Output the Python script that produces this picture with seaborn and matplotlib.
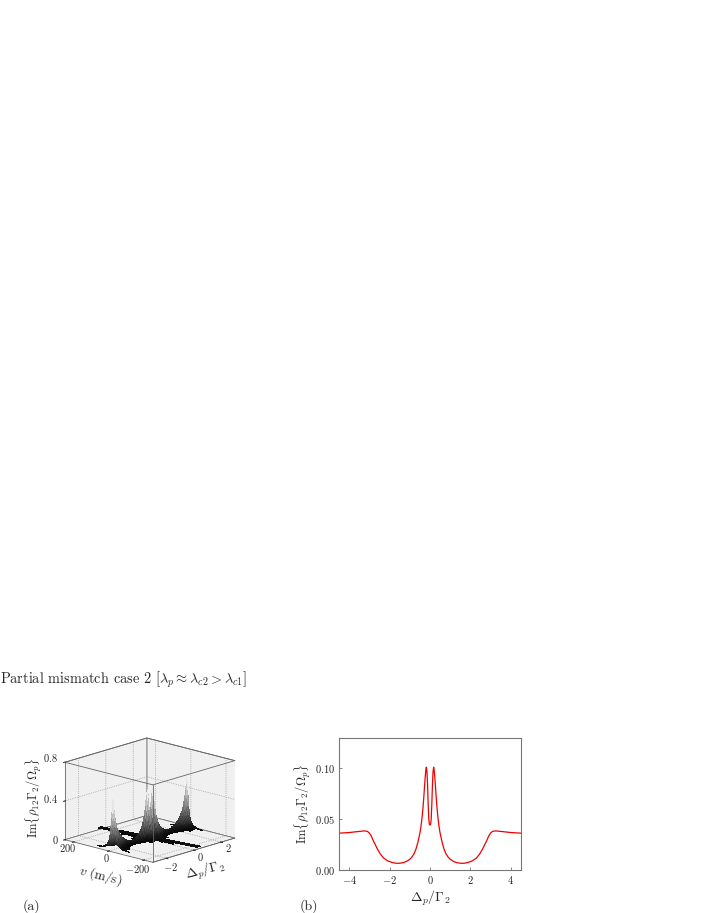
import numpy as np
import pandas as pd
import seaborn as sns
import matplotlib
matplotlib.use('Agg')
import matplotlib.pyplot as plt
from mpl_toolkits.mplot3d import Axes3D  # noqa

sns.set_style('ticks')
plt.rcParams['font.family'] = ['cmr10', 'DejaVu Serif']
plt.rcParams['mathtext.fontset'] = 'cm'
plt.rcParams['axes.unicode_minus'] = False
plt.rcParams['axes.formatter.use_mathtext'] = True

W, H = 706, 913

# %% panel (b), positive side of the detuning axis
det_b = [0.0, 0.03, 0.06, 0.09, 0.12, 0.15, 0.18, 0.21, 0.24, 0.27, 0.30, 0.35, 0.40, 0.45,
         0.50, 0.60, 0.70, 0.80, 0.90, 1.00, 1.15, 1.30, 1.50, 1.70, 1.90, 2.10, 2.30, 2.45,
         2.60, 2.70, 2.80, 2.90, 3.00, 3.10, 3.25, 3.50, 4.00, 4.50]
im_b = [0.044, 0.0445, 0.050, 0.064, 0.083, 0.096, 0.1005, 0.097, 0.090, 0.082, 0.073, 0.060, 0.050, 0.042,
        0.036, 0.027, 0.020, 0.0155, 0.0125, 0.0105, 0.0085, 0.0073, 0.0066, 0.0066, 0.0075, 0.0090, 0.0118, 0.0155,
        0.0205, 0.0245, 0.0285, 0.0330, 0.0362, 0.0378, 0.0382, 0.0377, 0.0366, 0.0360]

# %% panel (a): surface heights, columns follow det_a, rows are velocity slices
det_a = [0.0, 0.07, 0.14, 0.18, 0.24, 0.32, 0.40, 0.50, 0.63, 0.81, 1.08, 1.35, 1.62, 1.89, 2.07, 2.20,
         2.30, 2.38, 2.45, 2.50, 2.56, 2.61, 2.66, 2.70]
v_a = [0, 3, 6, 9, 12, 16, 20, 25, 32, 50, 80, 130, 250]
z_v0 = [.26, .32, .47, .52, .46, .35, .26, .19, .13, .085, .05, .04, .05, .08, .11, .14,
        .17, .20, .24, .28, .33, .39, .45, .52]
z_v3 = [.22, .27, .39, .43, .38, .29, .22, .16, .11, .072, .043, .035, .043, .067, .092, .117,
        .14, .165, .20, .23, .27, .32, .37, .43]
z_v6 = [.17, .21, .31, .34, .30, .23, .17, .13, .09, .06, .036, .03, .036, .055, .075, .095,
        .115, .135, .16, .19, .22, .26, .30, .35]
z_v9 = [.13, .16, .23, .26, .23, .17, .13, .10, .07, .047, .029, .024, .029, .043, .058, .074,
        .09, .105, .125, .145, .17, .20, .23, .26]
z_v12 = [.09, .11, .16, .18, .16, .12, .09, .07, .05, .035, .022, .018, .022, .032, .043, .055,
         .065, .075, .09, .105, .12, .14, .16, .18]
z_v16 = [.07, .08, .11, .125, .11, .085, .065, .05, .038, .026, .017, .014, .017, .024, .032, .04,
         .048, .055, .065, .075, .085, .10, .11, .125]
z_v20 = [.05, .06, .08, .09, .08, .06, .05, .04, .03, .02, .013, .011, .013, .018, .024, .03,
         .035, .04, .045, .05, .06, .07, .08, .09]
z_v25 = [.04, .045, .055, .06, .055, .042, .035, .028, .021, .014, .009, .008, .009, .013, .017, .021,
         .025, .029, .032, .036, .042, .048, .055, .06]
z_v32 = [.03, .035, .04, .045, .04, .03, .025, .02, .015, .01, .007, .006, .007, .01, .012, .015,
         .018, .02, .023, .026, .03, .033, .037, .04]
z_v50 = [.025, .025, .022, .02, .017, .014, .011, .009, .007, .005, .004, .003, .004, .005, .006, .007,
         .008, .009, .01, .012, .013, .015, .017, .018]
z_v80 = [.022, .022, .018, .01, .008, .006, .005, .004, .003, .002, .002, .002, .002, .002, .003, .003,
         .003, .004, .004, .005, .005, .006, .007, .008]
z_v130 = [.022, .022, .018, .006, .004, .003, .002, .002, .001, .001, .001, .001, .001, .001, .001, .001,
          .001, .002, .002, .002, .002, .002, .003, .003]
z_v250 = [.022, .022, .018, .005, .002, .001, .001, .001, .001, 0, 0, 0, 0, 0, 0, 0,
          0, 0, .001, .001, .001, .001, .001, .001]
z_rows = [z_v0, z_v3, z_v6, z_v9, z_v12, z_v16, z_v20, z_v25, z_v32, z_v50, z_v80, z_v130, z_v250]

v_ticks = [-200, 0, 200]
det_ticks_a = [-2, 0, 2]
z_ticks = [0, 0.4, 0.8]
det_ticks_b = [-4, -2, 0, 2, 4]
im_ticks_b = [0.00, 0.05, 0.10]

TITLE = r'Partial mismatch case 2 [$\lambda_p \approx \lambda_{c2} > \lambda_{c1}$]'
YLAB = r'$\mathrm{Im}\{\rho_{12}\Gamma_2/\Omega_p\}$'
XLAB = r'$\Delta_p/\Gamma_2$'
RIDGE_TILT = -0.0016  # the central ridge leans a little across v

fig = plt.figure(figsize=(W / 100, H / 100), dpi=100)
fig.patch.set_facecolor('white')


def put(x, y, s, **kw):
    fig.text(x / W, 1 - y / H, s, **kw)


put(0, 680, TITLE, fontsize=10.3, va='center', ha='left')
put(31, 906, '(a)', fontsize=10, va='center', ha='center')
put(309, 906, '(b)', fontsize=10, va='center', ha='center')

# %% (b)
ax = fig.add_axes([339 / W, 1 - 870 / H, 182 / W, 132 / H])
det_b = np.array(det_b)
im_b = np.array(im_b)
df_b = pd.DataFrame({'det': np.r_[-det_b[:0:-1], det_b], 'im': np.r_[im_b[:0:-1], im_b]})
sns.lineplot(data=df_b, x='det', y='im', color='#f00000', lw=0.9, ax=ax, sort=False, errorbar=None)
ax.set_xlim(-4.5, 4.5)
ax.set_ylim(0, 0.129)
ax.set_xticks(det_ticks_b, [f'${t}$' if t >= 0 else f'$-{-t}$' for t in det_ticks_b])
ax.set_yticks(im_ticks_b, [f'${t:.2f}$' for t in im_ticks_b])
ax.tick_params(direction='in', length=2.5, width=0.5, labelsize=7.5, color='#555555', labelcolor='#222222', pad=3)
for s in ax.spines.values():
    s.set_color('#777777')
    s.set_linewidth(0.8)
ax.set_xlabel(XLAB, fontsize=10, labelpad=2)
ax.set_ylabel(YLAB, fontsize=9, labelpad=1)

# %% (a)
ax3 = fig.add_axes([-3 / W, 1 - 908 / H, 300 / W, 210 / H], projection='3d', computed_zorder=False)
ax3.set_proj_type('ortho')
ax3.view_init(elev=16, azim=-137)
det_a = np.array(det_a)
x = np.r_[-det_a[:0:-1], det_a]
v_a = np.array(v_a)
y = np.r_[-v_a[:0:-1], v_a]
half = [np.r_[np.array(r)[:0:-1], np.array(r)] for r in z_rows]
Z = np.array(half[:0:-1] + half)
X, Y = np.meshgrid(x, y)
X = X + RIDGE_TILT * Y
# colour each facet by the mean height of its corners, floor stays see-through
Zm = (Z[:-1, :-1] + Z[1:, :-1] + Z[:-1, 1:] + Z[1:, 1:]) / 4
fc = plt.get_cmap('gray')(np.clip(Zm / 0.5, 0, 1) ** 0.9)
fc[Zm < 0.012, 3] = 0
# one strip per detuning step, far strips first, so the facets overlap properly
n_col = Z.shape[1] - 1
for k, j in enumerate(range(n_col - 1, -1, -1)):
    ax3.plot_surface(X[:, j:j + 2], Y[:, j:j + 2], Z[:, j:j + 2], facecolors=fc[:, j:j + 1],
                     rstride=1, cstride=1, shade=False, linewidth=0, antialiased=False,
                     zorder=2 + k / 100)
ax3.set_xlim(-3, 3)
ax3.set_ylim(-250, 250)
ax3.set_zlim(0, 0.8)
ax3.set_xticks(det_ticks_a, [])
ax3.set_yticks(v_ticks, [])
ax3.set_zticks(z_ticks, [])
ax3.tick_params(length=2)
for a in (ax3.xaxis, ax3.yaxis, ax3.zaxis):
    a.set_pane_color((0.94, 0.94, 0.94, 1))
    a.pane.set_edgecolor('#666666')
    a.pane.set_linewidth(0.5)
    a.line.set_color('#666666')
    a.line.set_linewidth(0.6)
    a._axinfo['grid'].update(color='#888888', linestyle=':', linewidth=0.5)
# front edges of the box
for xs, ys, zs in [((-3, -3), (-250, -250), (0, 0.8)), ((-3, -3), (-250, 250), (0.8, 0.8)),
                   ((-3, 3), (-250, -250), (0.8, 0.8)), ((3, 3), (-250, 250), (0.8, 0.8)),
                   ((-3, 3), (250, 250), (0.8, 0.8))]:
    ax3.plot(xs, ys, zs, color='#666666', lw=0.6, zorder=5)
ax3.set_box_aspect((1, 1, 0.67), zoom=0.87)

# tick labels of the box, placed by hand next to their ticks
for t, px, py in zip(v_ticks, [138, 106, 68], [869, 858, 848]):
    put(px, py, f'${t}$' if t >= 0 else f'$-{-t}$', fontsize=7.5, ha='center', va='center')
for t, px, py in zip(det_ticks_a, [170, 200, 228], [867, 857, 848]):
    put(px, py, f'${t}$' if t >= 0 else f'$-{-t}$', fontsize=7.5, ha='center', va='center')
for lab, px, py in zip(['$0$', '$0.4$', '$0.8$'], [55, 50, 50], [840, 799, 758]):
    put(px, py, lab, fontsize=7.5, ha='center', va='center')

put(101, 876, r'$v\ (\mathrm{m/s})$', fontsize=9.5, rotation=-14, ha='center', va='center')
put(205, 871, XLAB, fontsize=10, rotation=14, ha='center', va='center')
put(34, 798, YLAB, fontsize=9, rotation=90, ha='center', va='center')

fig.savefig('out.png', dpi=100)
